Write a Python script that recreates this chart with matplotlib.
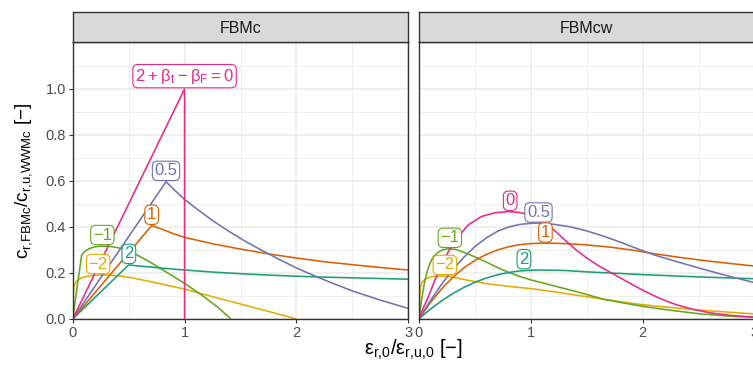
import matplotlib
matplotlib.use("Agg")
import matplotlib.pyplot as plt

plt.rcParams['font.family'] = ['Liberation Sans', 'DejaVu Sans']
plt.rcParams['mathtext.default'] = 'regular'

# ---------------- data ----------------
panels = ["FBMc", "FBMcw"]
colors = {"-2": "#E6AB02", "-1": "#66A61E", "0": "#E7298A",
          "0.5": "#7570B3", "1": "#D95F02", "2": "#1B9E77"}

# FBMc panel
fbmc_p0_x = [0, 1.0, 1.0]
fbmc_p0_y = [0, 1.0, 0.0]
fbmc_p05_x = [0, 0.834, 0.9, 1.0, 1.1, 1.25, 1.4, 1.55, 1.7, 1.85, 2.0, 2.15, 2.3, 2.5, 2.75, 3.0]
fbmc_p05_y = [0, 0.597, 0.565, 0.52, 0.482, 0.428, 0.38, 0.336, 0.296, 0.258, 0.222, 0.19, 0.16, 0.122, 0.082, 0.046]
fbmc_p1_x = [0, 0.706, 0.8, 0.9, 1.0, 1.25, 1.5, 1.75, 2.0, 2.25, 2.5, 2.75, 3.0]
fbmc_p1_y = [0, 0.406, 0.39, 0.371, 0.355, 0.327, 0.304, 0.283, 0.265, 0.249, 0.236, 0.224, 0.213]
fbmc_p2_x = [0, 0.5, 0.6, 0.7, 0.8, 1.0, 1.25, 1.5, 1.75, 2.0, 2.25, 2.5, 2.75, 3.0]
fbmc_p2_y = [0, 0.235, 0.23, 0.226, 0.221, 0.213, 0.204, 0.197, 0.191, 0.186, 0.182, 0.179, 0.176, 0.173]
fbmc_m1_x = [0, 0.08, 0.1, 0.125, 0.15, 0.185, 0.23, 0.274, 0.32, 0.37, 0.437, 0.55, 0.7, 0.85, 1.0, 1.15, 1.3, 1.415]
fbmc_m1_y = [0, 0.278, 0.29, 0.3, 0.306, 0.312, 0.316, 0.317, 0.316, 0.313, 0.307, 0.285, 0.245, 0.2, 0.155, 0.105, 0.05, 0.0]
fbmc_m2_x = [0, 0.006, 0.012, 0.03, 0.07, 0.12, 0.2, 0.28, 0.36, 0.45, 0.55, 0.7, 0.85, 1.0, 1.25, 1.5, 1.75, 2.0]
fbmc_m2_y = [0, 0.12, 0.142, 0.163, 0.177, 0.185, 0.19, 0.192, 0.19, 0.185, 0.177, 0.162, 0.146, 0.13, 0.097, 0.065, 0.033, 0.0]

# FBMcw panel
fbmcw_p0_x = [0, 0.04, 0.084, 0.143, 0.203, 0.263, 0.352, 0.44, 0.56, 0.68, 0.8, 0.9, 1.0, 1.1, 1.2, 1.3, 1.4, 1.5, 1.6, 1.72, 1.85, 2.0, 2.15, 2.3, 2.45, 2.6, 2.8, 3.0]
fbmcw_p0_y = [0, 0.05, 0.097, 0.17, 0.235, 0.293, 0.358, 0.409, 0.446, 0.462, 0.467, 0.463, 0.452, 0.428, 0.39, 0.345, 0.302, 0.265, 0.233, 0.2, 0.165, 0.125, 0.09, 0.062, 0.042, 0.027, 0.015, 0.008]
fbmcw_p05_x = [0, 0.05, 0.1, 0.2, 0.3, 0.4, 0.5, 0.6, 0.7, 0.8, 0.9, 1.0, 1.07, 1.2, 1.35, 1.5, 1.65, 1.8, 1.95, 2.1, 2.3, 2.5, 2.7, 2.9, 3.0]
fbmcw_p05_y = [0, 0.04, 0.078, 0.15, 0.213, 0.268, 0.315, 0.352, 0.381, 0.4, 0.411, 0.416, 0.417, 0.412, 0.401, 0.383, 0.36, 0.334, 0.306, 0.279, 0.25, 0.222, 0.195, 0.17, 0.158]
fbmcw_p1_x = [0, 0.1, 0.2, 0.3, 0.4, 0.5, 0.6, 0.7, 0.8, 0.9, 1.0, 1.13, 1.3, 1.5, 1.7, 1.9, 2.1, 2.3, 2.5, 2.75, 3.0]
fbmcw_p1_y = [0, 0.07, 0.13, 0.18, 0.222, 0.255, 0.28, 0.3, 0.314, 0.323, 0.328, 0.33, 0.328, 0.322, 0.313, 0.3, 0.284, 0.27, 0.257, 0.243, 0.23]
fbmcw_p2_x = [0, 0.05, 0.1, 0.2, 0.3, 0.4, 0.5, 0.6, 0.7, 0.8, 0.9, 1.0, 1.1, 1.3, 1.5, 1.75, 2.0, 2.25, 2.5, 2.75, 3.0]
fbmcw_p2_y = [0, 0.022, 0.042, 0.078, 0.11, 0.137, 0.16, 0.178, 0.192, 0.202, 0.209, 0.212, 0.213, 0.211, 0.205, 0.199, 0.193, 0.188, 0.183, 0.179, 0.175]
fbmcw_m1_x = [0, 0.025, 0.05, 0.075, 0.1, 0.13, 0.17, 0.22, 0.27, 0.33, 0.4, 0.5, 0.6, 0.7, 0.8, 0.9, 1.0, 1.2, 1.4, 1.65, 1.8, 2.0, 2.25, 2.5, 2.75, 3.0]
fbmcw_m1_y = [0, 0.09, 0.16, 0.21, 0.245, 0.272, 0.29, 0.302, 0.306, 0.302, 0.29, 0.27, 0.248, 0.224, 0.203, 0.185, 0.17, 0.145, 0.12, 0.086, 0.072, 0.055, 0.038, 0.023, 0.013, 0.007]
fbmcw_m2_x = [0, 0.006, 0.012, 0.025, 0.05, 0.1, 0.17, 0.25, 0.35, 0.45, 0.6, 0.8, 1.0, 1.2, 1.4, 1.65, 1.9, 2.1, 2.4, 2.7, 3.0]
fbmcw_m2_y = [0, 0.1, 0.135, 0.158, 0.172, 0.183, 0.187, 0.186, 0.177, 0.167, 0.154, 0.142, 0.132, 0.119, 0.104, 0.086, 0.068, 0.057, 0.043, 0.032, 0.022]

# label texts and anchor points (label bottom sits on the point)
fbmc_lab_keys = ["0", "0.5", "1", "-1", "-2", "2"]
fbmc_lab_text = [r"$2+β_t-β_F=0$", "0.5", "1", "\u22121", "\u22122", "2"]
fbmc_lab_x = [1.0, 0.834, 0.706, 0.265, 0.228, 0.502]
fbmc_lab_y = [1.0, 0.597, 0.406, 0.318, 0.192, 0.236]

fbmcw_lab_keys = ["0", "0.5", "1", "-1", "-2", "2"]
fbmcw_lab_text = ["0", "0.5", "1", "\u22121", "\u22122", "2"]
fbmcw_lab_x = [0.815, 1.068, 1.13, 0.276, 0.231, 0.938]
fbmcw_lab_y = [0.467, 0.416, 0.329, 0.306, 0.188, 0.213]

x_ticks = [0, 1, 2, 3]
y_ticks = [0.0, 0.2, 0.4, 0.6, 0.8, 1.0]
y_tick_labels = ["0.0", "0.2", "0.4", "0.6", "0.8", "1.0"]

fbmc_series = [("-2", fbmc_m2_x, fbmc_m2_y), ("-1", fbmc_m1_x, fbmc_m1_y),
               ("2", fbmc_p2_x, fbmc_p2_y), ("1", fbmc_p1_x, fbmc_p1_y),
               ("0.5", fbmc_p05_x, fbmc_p05_y), ("0", fbmc_p0_x, fbmc_p0_y)]
fbmcw_series = [("-2", fbmcw_m2_x, fbmcw_m2_y), ("-1", fbmcw_m1_x, fbmcw_m1_y),
                ("2", fbmcw_p2_x, fbmcw_p2_y), ("1", fbmcw_p1_x, fbmcw_p1_y),
                ("0.5", fbmcw_p05_x, fbmcw_p05_y), ("0", fbmcw_p0_x, fbmcw_p0_y)]

# ---------------- figure ----------------
W, H = 753, 370
fig = plt.figure(figsize=(W / 100, H / 100), dpi=100)

panel_left = [72.7, 419.0]
panel_w = 335.6
panel_top, panel_bot = 42.3, 319.0
strip_top = 11.7

dark = "#333333"
grid_c = "#EBEBEB"

def fx(px):
    return px / W

def fy(py):
    return 1 - py / H

all_series = [fbmc_series, fbmcw_series]
all_labels = [(fbmc_lab_keys, fbmc_lab_text, fbmc_lab_x, fbmc_lab_y),
              (fbmcw_lab_keys, fbmcw_lab_text, fbmcw_lab_x, fbmcw_lab_y)]

for i, name in enumerate(panels):
    ax = fig.add_axes([fx(panel_left[i]), fy(panel_bot), panel_w / W, (panel_bot - panel_top) / H])
    ax.set_xlim(0, 3)
    ax.set_ylim(0, 1.203)
    ax.set_xticks(x_ticks)
    ax.set_xticks([0.5, 1.5, 2.5], minor=True)
    ax.set_yticks(y_ticks)
    ax.set_yticks([0.1, 0.3, 0.5, 0.7, 0.9, 1.1], minor=True)
    ax.grid(True, which="major", color=grid_c, lw=1.1, zorder=0)
    ax.grid(True, which="minor", color=grid_c, lw=0.55, zorder=0)
    ax.set_axisbelow(True)
    ax.tick_params(which="minor", length=0)
    ax.tick_params(which="major", length=3, width=0.8, color=dark,
                   labelcolor="#4D4D4D", labelsize=10.5, pad=2)
    if i == 0:
        ax.set_yticklabels(y_tick_labels)
    else:
        ax.tick_params(axis="y", which="major", length=0, labelleft=False)
    for s in ax.spines.values():
        s.set_color(dark)
        s.set_linewidth(1.0)
        s.set_zorder(5)

    for key, xs, ys in all_series[i]:
        ax.plot(xs, ys, color=colors[key], lw=1.15, solid_capstyle="butt",
                solid_joinstyle="round", zorder=2)

    keys, texts, lx, ly = all_labels[i]
    for k, t, xx, yy in zip(keys, texts, lx, ly):
        ax.annotate(t, (xx, yy), xytext=(0, 2.4), textcoords="offset points",
                    ha="center", va="bottom", fontsize=12, color=colors[k],
                    bbox=dict(boxstyle="round,pad=0.13,rounding_size=0.3",
                              fc="white", ec=colors[k], lw=0.8),
                    zorder=4, annotation_clip=False)

    # strip
    sax = fig.add_axes([fx(panel_left[i]), fy(panel_top), panel_w / W, (panel_top - strip_top) / H])
    sax.set_facecolor("#D9D9D9")
    sax.set_xticks([])
    sax.set_yticks([])
    for s in sax.spines.values():
        s.set_color(dark)
        s.set_linewidth(1.0)
    sax.text(0.5, 0.45, name, ha="center", va="center", fontsize=11.5,
             color="#1A1A1A", transform=sax.transAxes)

fig.text(fx(413), fy(350), r"$ε_{r{,}0}/ε_{r{,}u{,}0}$ [−]", ha="center", va="center",
         fontsize=14.5, color="black")
fig.text(fx(24), fy((panel_top + panel_bot) / 2), r"$c_{r{,}FBMc}/c_{r{,}u{,}WWMc}$ [−]",
         ha="center", va="center", rotation=90, fontsize=13.5, color="black")

fig.savefig("out.png", dpi=100)
